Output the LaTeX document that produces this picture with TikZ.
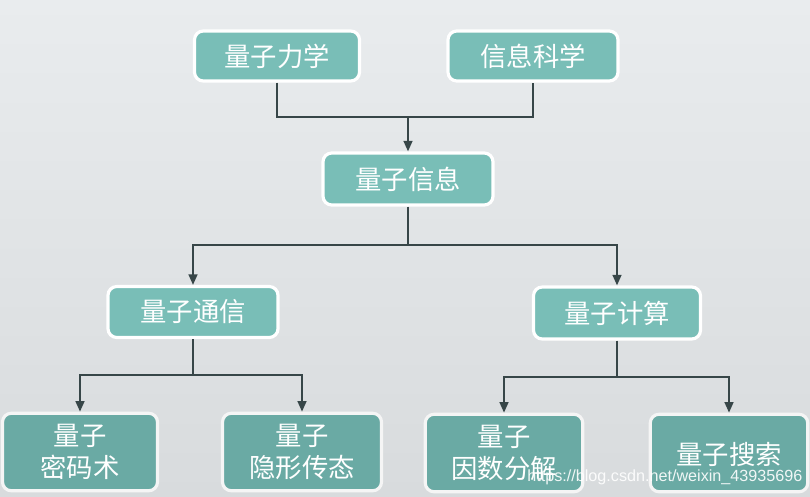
\documentclass[tikz,border=0pt]{standalone}
\usepackage{fontspec}
\newfontfamily\cjk{Noto Sans CJK SC}
\newfontfamily\wmfont{Liberation Sans}
\definecolor{qbg_top}{RGB}{233, 236, 238}
\definecolor{qbg_bot}{RGB}{216, 219, 221}
\definecolor{qteal}{RGB}{121, 190, 183}
\definecolor{qteal_dark}{RGB}{106, 170, 164}
\definecolor{qline}{RGB}{55, 70, 72}
\usetikzlibrary{arrows.meta, positioning}

\begin{document}
\begin{tikzpicture}[font=\cjk\fontsize{15}{18}\selectfont,
        box/.style={draw=white, line width=1.8pt, rounded corners=5pt,
                    fill=qteal, text=white, align=center,
                    minimum width=3.3cm, minimum height=1.0cm},
        leaf/.style={box, fill=qteal_dark, draw=white!92!gray,
                     minimum width=3.15cm, minimum height=1.55cm},
        link/.style={draw=qline, line width=1.1pt},
        arr/.style={link, -{Triangle[length=6pt, width=5pt]}}]
        % Background
        \shade[top color=qbg_top, bottom color=qbg_bot]
          (0, 0) rectangle (16.2, 9.92);
        \useasboundingbox (0, 0) rectangle (16.2, 9.92);
        % Top row
        \node[box] (mech) at (5.54, 8.80) {量子力学};
        \node[box, minimum width=3.4cm] (isci) at (10.66, 8.80) {信息科学};
        \node[box, minimum width=3.4cm, minimum height=1.04cm] (qinfo)
          at (8.16, 6.34) {量子信息};
        \coordinate (jtop) at (8.16, 7.58);
        \draw[link] (mech.south) |- (jtop) -| (isci.south);
        \draw[arr] (jtop) -- (qinfo.north);
        % Middle row
        \node[box, minimum width=3.4cm, minimum height=1.02cm] (qcomm)
          at (3.86, 3.68) {量子通信};
        \node[box, minimum width=3.34cm, minimum height=1.04cm] (qcomp)
          at (12.34, 3.66) {量子计算};
        \coordinate (jmid) at (8.16, 5.02);
        \draw[link] (qinfo.south) -- (jmid);
        \draw[arr] (jmid) -| (qcomm.north);
        \draw[arr] (jmid) -| (qcomp.north);
        % Bottom row
        \node[leaf, minimum width=3.1cm] (crypt) at (1.60, 0.88)
          {量子\\密码术};
        \node[leaf, minimum width=3.18cm] (tele) at (6.04, 0.88)
          {量子\\隐形传态};
        \node[leaf] (fact) at (10.08, 0.86) {量子\\因数分解};
        \node[leaf, text depth=-0.2cm] (search) at (14.58, 0.86) {量子搜索};
        \coordinate (jcomm) at (3.86, 2.42);
        \coordinate (jcomp) at (12.34, 2.38);
        \draw[link] (qcomm.south) -- (jcomm);
        \draw[arr] (jcomm) -| (crypt.north);
        \draw[arr] (jcomm) -| (tele.north);
        \draw[link] (qcomp.south) -- (jcomp);
        \draw[arr] (jcomp) -| (fact.north);
        \draw[arr] (jcomp) -| (search.north);
        % Watermark
        \node[anchor=west, inner sep=0pt, text=white, opacity=0.9,
              font=\wmfont\fontsize{9.2}{11}\selectfont] (mark)
          at (10.54, 0.38) {https://blog.csdn.net/weixin\_43935696};
      \end{tikzpicture}
\end{document}
